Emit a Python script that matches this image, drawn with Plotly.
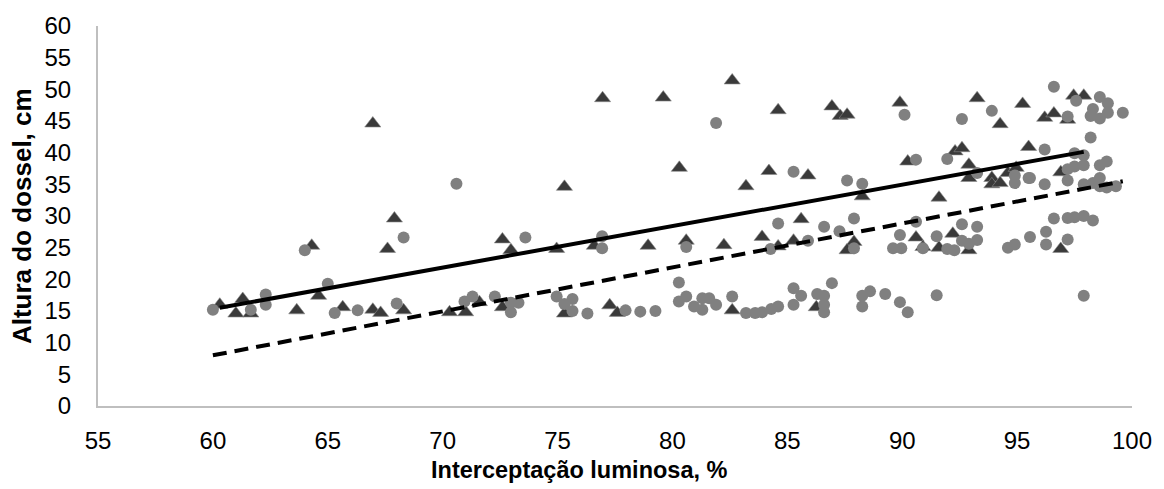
import plotly.graph_objects as go
import numpy as np

# Light interception (%) vs canopy height (cm) — two treatments
tri_x = [60.3, 61.0, 61.3, 61.65, 63.65, 64.3, 64.6, 65.65, 66.96, 66.96, 67.3, 67.9, 67.6, 68.3,
         70.3, 71.0, 71.6, 72.6, 72.97, 72.6, 75.3, 74.96, 75.3, 76.96, 76.6, 79.6, 78.94, 80.3,
         80.6, 77.27, 77.6, 82.6, 82.24, 83.2, 82.6, 84.2, 83.9, 84.6, 85.27, 84.6, 86.94, 87.3,
         87.6, 89.9, 85.9, 88.26, 90.24, 91.6, 85.6, 87.9, 87.6, 90.6, 90.9, 86.26, 92.2, 91.6,
         92.9, 93.26, 94.26, 95.24, 92.3, 92.6, 92.9, 92.9, 93.9, 93.9, 94.26, 94.6, 94.96, 95.5,
         96.2, 96.6, 97.2, 97.46, 97.9, 96.9, 96.9]
tri_y = [16.0, 14.6, 16.9, 14.6, 15.1, 25.3, 17.4, 15.6, 44.6, 15.2, 14.7, 29.6, 24.8, 15.1,
         14.8, 14.8, 16.4, 26.3, 24.6, 15.6, 34.6, 24.8, 14.6, 48.6, 25.3, 48.7, 25.3, 37.6,
         26.1, 15.9, 14.7, 51.4, 25.4, 34.7, 15.1, 37.1, 26.7, 25.2, 26.1, 46.7, 47.3, 45.8,
         46.0, 47.9, 36.4, 33.1, 38.6, 32.9, 29.5, 25.9, 24.6, 26.6, 25.1, 15.6, 27.2, 25.0,
         24.6, 48.6, 44.5, 47.7, 40.2, 40.7, 38.1, 36.0, 36.0, 35.0, 35.2, 36.8, 37.6, 40.9,
         45.5, 46.2, 45.2, 49.0, 49.0, 36.9, 24.8]

circ_x = [60.0, 61.65, 62.3, 62.3, 64.0, 65.0, 65.3, 66.3, 68.0, 68.3, 70.6, 70.95, 71.3, 72.27,
          73.6, 72.97, 72.97, 73.3, 74.96, 75.65, 75.65, 75.3, 76.94, 76.94, 76.3, 77.96, 78.6,
          79.26, 80.6, 81.9, 80.28, 80.28, 80.6, 80.94, 81.3, 81.3, 81.6, 81.9, 82.6, 83.2, 83.6,
          84.27, 83.9, 84.3, 84.6, 85.27, 87.6, 88.26, 90.1, 90.6, 84.6, 86.6, 87.27, 87.9, 85.9,
          87.9, 89.9, 89.6, 89.96, 90.6, 90.9, 91.5, 85.27, 85.27, 85.6, 86.3, 86.6, 86.6, 86.6,
          86.94, 88.26, 88.6, 88.26, 89.26, 89.9, 90.24, 91.5, 92.6, 93.9, 91.96, 93.26, 94.9,
          94.9, 95.5, 92.6, 93.26, 91.96, 92.27, 92.6, 92.9, 93.26, 94.6, 94.9, 95.56, 96.6, 97.57,
          98.6, 98.95, 98.3, 98.95, 98.6, 98.2, 99.6, 97.2, 98.2, 96.2, 95.56, 96.2, 97.2, 97.2,
          97.5, 97.5, 97.9, 97.9, 98.6, 98.9, 97.9, 98.3, 98.6, 98.9, 99.3, 98.6, 96.6, 97.2,
          97.5, 97.9, 98.3, 96.26, 96.26, 97.2, 97.9]
circ_y = [15.2, 15.2, 17.6, 16.0, 24.6, 19.3, 14.7, 15.1, 16.2, 26.6, 35.1, 16.5, 17.3, 17.3,
          26.6, 16.3, 14.8, 16.3, 17.3, 16.9, 15.0, 16.1, 26.8, 24.9, 14.6, 15.1, 14.9,
          15.0, 25.1, 44.7, 19.5, 16.5, 17.3, 15.7, 17.0, 15.2, 17.0, 16.0, 17.3, 14.7, 14.7,
          24.8, 14.8, 15.3, 15.7, 37.0, 35.6, 35.1, 46.0, 38.9, 28.8, 28.3, 27.6, 29.6, 26.1,
          24.9, 27.0, 24.9, 24.9, 29.1, 24.9, 26.8, 18.6, 16.0, 17.4, 17.7, 17.4, 16.0, 14.8,
          19.4, 17.4, 18.1, 15.7, 17.7, 16.4, 14.8, 17.5, 45.3, 46.6, 39.0, 36.8, 36.4,
          35.2, 36.0, 28.7, 28.3, 24.8, 24.6, 26.1, 25.6, 26.2, 25.0, 25.5, 26.7, 50.4, 48.2,
          48.8, 47.8, 46.9, 46.3, 45.4, 45.8, 46.3, 45.7, 42.4, 40.5, 36.0, 35.0, 37.4, 35.6,
          37.8, 39.9, 39.6, 38.0, 38.0, 38.6, 35.0, 35.2, 36.0, 34.5, 34.7, 34.7, 29.6, 29.7,
          29.8, 30.0, 29.3, 27.5, 25.5, 26.3, 17.4]

# Linear trend lines (intercept at x0, slope)
tri_trend = (60.3, 15.5, 0.655)
circ_trend = (60.0, 8.0, 0.694)

x_ticks = list(range(55, 101, 5))
y_ticks = list(range(0, 61, 5))

FONT = "Arial, 'Liberation Sans', sans-serif"

def trend_line(x_vals, params):
    x0, y0, slope = params
    xs = np.array([min(x_vals), max(x_vals)])
    return xs, y0 + slope * (xs - x0)

fig = go.Figure()

fig.add_trace(go.Scatter(
    x=tri_x, y=tri_y, mode="markers",
    marker=dict(symbol="triangle-up", size=14, color="#3a3a3a",
                line=dict(width=0.6, color="#8c8c8c")),
    showlegend=False, hoverinfo="skip"))

fig.add_trace(go.Scatter(
    x=circ_x, y=circ_y, mode="markers",
    marker=dict(symbol="circle", size=12, color="#808080", line=dict(width=0)),
    showlegend=False, hoverinfo="skip"))

tx, ty = trend_line(tri_x, tri_trend)
fig.add_trace(go.Scatter(x=tx, y=ty, mode="lines",
                         line=dict(color="black", width=4),
                         showlegend=False, hoverinfo="skip"))

cx, cy = trend_line(circ_x, circ_trend)
fig.add_trace(go.Scatter(x=cx, y=cy, mode="lines",
                         line=dict(color="black", width=4, dash="14px,8px"),
                         showlegend=False, hoverinfo="skip"))

fig.update_layout(
    width=1164, height=489,
    margin=dict(l=98, r=31, t=24, b=83),
    paper_bgcolor="white", plot_bgcolor="white",
    font=dict(family=FONT, size=24, color="black"),
    xaxis=dict(range=[55, 100], tickvals=x_ticks, showgrid=False, zeroline=False,
               showline=True, linecolor="#bfbfbf", linewidth=2, ticks="",
               ticklabelstandoff=12, tickfont=dict(size=24)),
    yaxis=dict(range=[0, 60], tickvals=y_ticks, showgrid=False, zeroline=False,
               showline=True, linecolor="#bfbfbf", linewidth=2, ticks="",
               ticklabelstandoff=20, tickfont=dict(size=24)),
    annotations=[
        dict(text="<b>Interceptação luminosa, %</b>", xref="paper", yref="paper",
             x=(580 - 98) / (1133 - 98), y=-(470 - 406) / (406 - 24),
             xanchor="center", yanchor="middle", showarrow=False,
             font=dict(size=23.5)),
        dict(text="<b>Altura do dossel, cm</b>", xref="paper", yref="paper",
             x=-(98 - 22) / (1133 - 98), y=0.5, textangle=-90,
             xanchor="center", yanchor="middle", showarrow=False,
             font=dict(size=26)),
    ],
)

fig.write_html("out.html")
